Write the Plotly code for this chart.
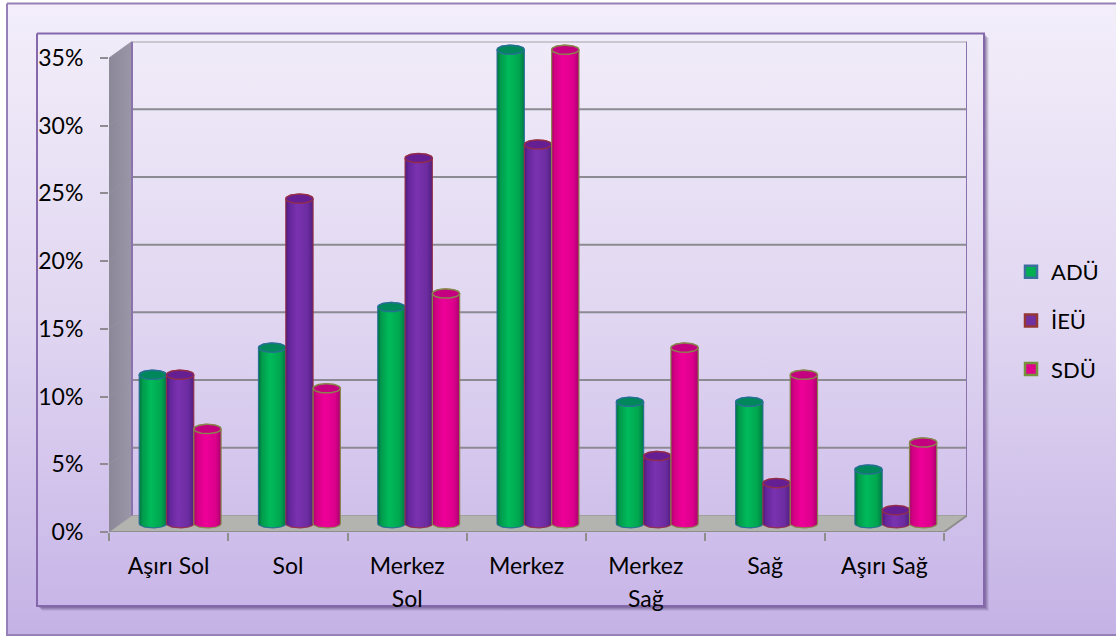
import numpy as np
import plotly.graph_objects as go

categories = ["Aşırı Sol", "Sol", "Merkez<br>Sol", "Merkez", "Merkez<br>Sağ", "Sağ", "Aşırı Sağ"]
series_names = ["ADÜ", "İEÜ", "SDÜ"]
adu = [11, 13, 16, 35, 9, 9, 4]
ieu = [11, 24, 27, 28, 5, 3, 1]
sdu = [7, 10, 17, 35, 13, 11, 6]
y_ticks = [0, 5, 10, 15, 20, 25, 30, 35]

W, H = 1116, 637
X0, X1, Y0, Y35 = 109, 944, 532, 58        # front plane in pixels
DEPTH_X, DEPTH_Y = 23, 16.5                # chart depth in pixels
PX_CAT = (X1 - X0) / 7
PX_PCT = (Y0 - Y35) / 35
DX, DY = DEPTH_X / PX_CAT, DEPTH_Y / PX_PCT
XMAX, YMAX = 7 + DX, 35 + DY
BAR_W = 27.3 / PX_CAT
RX = BAR_W / 2
RY_TOP = 4.6 / PX_PCT
RY_BOT = 4.2 / PX_PCT

STYLES = [
    dict(grad=[[0, "#00703c"], [0.12, "#009a4c"], [0.42, "#00bb5a"], [0.8, "#00a64f"], [1, "#007a44"]],
         line="rgba(40,110,150,0.9)", top="#00885c", swatch="#00b050", edge="#3b6f9e"),
    dict(grad=[[0, "#4a1a78"], [0.12, "#64259a"], [0.42, "#7a32b0"], [0.8, "#6c2ca0"], [1, "#4f1f80"]],
         line="rgba(150,45,70,0.9)", top="#651f92", swatch="#7030a0", edge="#943634"),
    dict(grad=[[0, "#a80068"], [0.12, "#d20084"], [0.42, "#ee0098"], [0.8, "#dc008c"], [1, "#a8006c"]],
         line="rgba(135,135,75,0.95)", top="#c40080", swatch="#e0008c", edge="#76923c"),
]

fig = go.Figure()


def px_rect(x0, y0, x1, y1, **kw):
    fig.add_trace(go.Scatter(x=[x0, x1, x1, x0, x0], y=[y0, y0, y1, y1, y0], mode="lines", fill="toself",
                             xaxis="x", yaxis="y", showlegend=False, hoverinfo="skip", **kw))


OUTER_GRAD = [[0, "#f3eefa"], [0.5, "#e0d6f1"], [1, "#c4b2e5"]]
PANEL_GRAD = [[0, "#f1ecf9"], [0.5, "#e0d6f1"], [1, "#c8b6e8"]]

# outer frame
px_rect(7, 3.5, 1130, 635, fillgradient=dict(type="vertical", colorscale=OUTER_GRAD, start=3.5, stop=635),
        line=dict(color="#9580b8", width=2))
# panel shadow, then panel
for off, op in [(5, 0.10), (4, 0.14), (3, 0.20), (2, 0.25)]:
    px_rect(37 + off, 33 + off, 984 + off, 606 + off, fillcolor=f"rgba(80,60,110,{op})", line=dict(width=0))
px_rect(37, 33.5, 984, 606, fillgradient=dict(type="vertical", colorscale=PANEL_GRAD, start=33.5, stop=606),
        line=dict(color="#8468ab", width=2))


def data_line(xs, ys, color, width):
    fig.add_trace(go.Scatter(x=xs, y=ys, mode="lines", line=dict(color=color, width=width),
                             xaxis="x2", yaxis="y2", showlegend=False, hoverinfo="skip"))


# floor
fig.add_trace(go.Scatter(x=[0, 7, XMAX, DX, 0], y=[0, 0, DY, DY, 0], mode="lines", fill="toself",
                         fillcolor="#b3b3b0", line=dict(color="#a0a09c", width=1),
                         xaxis="x2", yaxis="y2", showlegend=False, hoverinfo="skip"))
# side wall
fig.add_trace(go.Scatter(x=[0, DX, DX, 0, 0], y=[0, DY, YMAX, 35, 0], mode="lines", fill="toself",
                         fillgradient=dict(type="horizontal", colorscale=[[0, "#8b8798"], [1, "#9c97a8"]],
                                           start=0, stop=DX),
                         line=dict(width=0), xaxis="x2", yaxis="y2", showlegend=False, hoverinfo="skip"))
# gridlines on the back wall and the side wall
for t in y_ticks:
    if t > 0:
        data_line([DX, XMAX], [t + DY, t + DY], "#8c8a92" if t < 35 else "#a3a1a8", 2)
    if 0 < t < 35:
        data_line([0, DX], [t, t + DY], "rgba(150,145,160,0.9)", 1)
# wall edges
data_line([DX, DX], [DY, YMAX], "#8a72ac", 2)
data_line([XMAX, XMAX], [DY, YMAX], "#8a72ac", 2)
data_line([0, DX], [35, YMAX], "#9a94a8", 1)
data_line([0, 0], [0, 35], "#8e8c92", 1.5)
data_line([0, 7, XMAX], [0, 0, DY], "#8e8e8c", 2)

# cylinders
values = [adu, ieu, sdu]
t_top = np.linspace(np.pi, 0, 40)
t_bot = np.linspace(0, -np.pi, 40)
t_all = np.linspace(0, 2 * np.pi, 70)
for i in range(len(categories)):
    for s, vals in enumerate(values):
        st = STYLES[s]
        cx = i + 0.5 + DX / 2 + (s - 1) * BAR_W
        base = DY / 2
        top = vals[i] + DY / 2
        xs = np.concatenate([cx + RX * np.cos(t_top), cx + RX * np.cos(t_bot)])
        ys = np.concatenate([top + RY_TOP * np.sin(t_top), base + RY_BOT * np.sin(t_bot)])
        fig.add_trace(go.Scatter(x=np.append(xs, xs[0]), y=np.append(ys, ys[0]), mode="lines", fill="toself",
                                 fillgradient=dict(type="horizontal", colorscale=st["grad"],
                                                   start=cx - RX, stop=cx + RX),
                                 line=dict(color=st["line"], width=1.2),
                                 xaxis="x2", yaxis="y2", showlegend=False, hoverinfo="skip"))
        fig.add_trace(go.Scatter(x=cx + RX * np.cos(t_all), y=top + RY_TOP * np.sin(t_all), mode="lines",
                                 fill="toself", fillcolor=st["top"], line=dict(color=st["line"], width=1.5),
                                 xaxis="x2", yaxis="y2", showlegend=False, hoverinfo="skip"))

# legend entries
for name, st in zip(series_names, STYLES):
    fig.add_trace(go.Bar(x=[None], y=[None], name=name, legendgroup=name, xaxis="x2", yaxis="y2",
                         marker=dict(color=st["swatch"], line=dict(color=st["edge"], width=2.5))))

FONT = "Lato, Carlito, Calibri, sans-serif"
TICK_PX = 23


def tick_label(c):
    return "<br>".join(f"<span style='font-size:{TICK_PX}px'>{p}</span>" for p in c.split("<br>"))


fig.update_layout(
    width=W, height=H, margin=dict(l=0, r=0, t=0, b=0, pad=0, autoexpand=False), autosize=False,
    paper_bgcolor="white", plot_bgcolor="rgba(0,0,0,0)",
    font=dict(family=FONT, color="#000000", size=TICK_PX),
    xaxis=dict(domain=[0, 1], range=[0, W], visible=False, fixedrange=True),
    yaxis=dict(domain=[0, 1], range=[H, 0], visible=False, fixedrange=True),
    xaxis2=dict(domain=[X0 / W, (X1 + DEPTH_X) / W], range=[0, XMAX], anchor="y2",
                tickmode="array", tickvals=[i + 0.5 for i in range(7)],
                ticktext=[tick_label(c) for c in categories], ticks="", showgrid=False, zeroline=False,
                showline=False, tickangle=0, tickfont=dict(size=25, family=FONT), ticklabelstandoff=16,
                minor=dict(tickmode="array", tickvals=list(range(8)), ticks="outside", ticklen=8,
                           tickcolor="#8e8e8c", tickwidth=1.5, showgrid=False)),
    yaxis2=dict(domain=[(H - Y0) / H, (H - (Y35 - DEPTH_Y)) / H], range=[0, YMAX], anchor="x2",
                tickmode="array", tickvals=y_ticks, ticktext=[f"{t}%" for t in y_ticks],
                ticks="outside", ticklen=8, tickcolor="#8e8c92", tickwidth=1.5, showgrid=False, zeroline=False,
                showline=False, tickfont=dict(size=TICK_PX, family=FONT), ticklabelstandoff=12),
    legend=dict(x=1011 / W, y=(H - 251) / H, xanchor="left", yanchor="top", bgcolor="rgba(0,0,0,0)",
                traceorder="grouped", tracegroupgap=17, font=dict(size=22, family=FONT), itemwidth=30),
    showlegend=True,
)

fig.write_html("out.html", config={"displayModeBar": False}, post_script="document.body.style.margin='0';")
